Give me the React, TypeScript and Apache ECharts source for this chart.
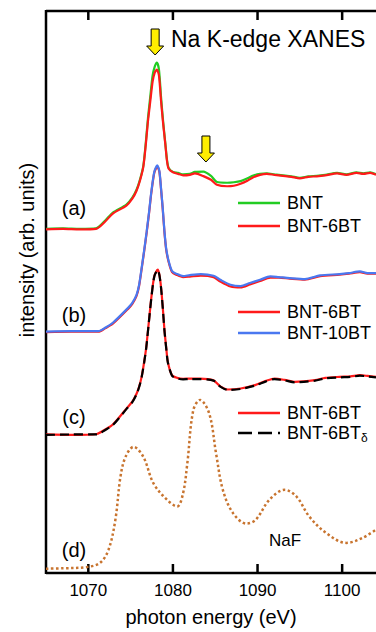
import React, { useEffect, useRef } from "react";
import * as echarts from "echarts";

const FONT = "Liberation Sans, Arial, sans-serif";

const xTicks = [1070, 1080, 1090, 1100];

// (a) BNT vs BNT-6BT
const energyA = [1065, 1067, 1069, 1070.9, 1072, 1072.9, 1074.5, 1075.2, 1075.7, 1076.1, 1076.5, 1076.8, 1077.05, 1077.35, 1077.6, 1077.85, 1078.1, 1078.35, 1078.6, 1078.85, 1079.1, 1079.3, 1079.5, 1080, 1080.6, 1081.2, 1082, 1082.6, 1083.6, 1084.5, 1085.2, 1086.4, 1087.2, 1088, 1088.8, 1089.5, 1090.3, 1091.1, 1092, 1093, 1094, 1095, 1096, 1097, 1098, 1099.4, 1100.5, 1101.7, 1102.5, 1103.3, 1104];
const bntA = [342.5, 343, 342.5, 343, 351, 359, 367, 374, 382, 392, 406, 430, 454, 478, 497, 506, 510, 503, 475, 450, 429, 412, 404, 400, 399, 397.5, 398, 400, 400.3, 396, 389.7, 389, 389.5, 390.7, 393.5, 396.3, 398, 398.5, 397.5, 396.5, 395.5, 394, 395.5, 396, 397, 399, 397.5, 399.5, 398.5, 399.5, 397.5];
const bnt6A = [342, 342.5, 342, 342.5, 350, 358, 366, 373, 381, 391, 405, 428, 451, 473, 491, 500, 503, 497, 471, 448, 428, 411, 403, 399.5, 398, 396.5, 397, 398.5, 395.7, 392, 387, 385.5, 386, 388, 391, 394.5, 397, 398, 397, 396, 395, 393.5, 395, 395.5, 396.5, 398.5, 397, 399, 398, 399, 397];

// (b) BNT-6BT vs BNT-10BT
const energyB = [1065, 1068, 1071.2, 1072, 1072.9, 1074.7, 1075.2, 1075.7, 1076, 1076.3, 1076.6, 1076.9, 1077.2, 1077.45, 1077.8, 1078.15, 1078.4, 1078.6, 1078.8, 1079, 1079.2, 1079.5, 1079.9, 1080.5, 1081.2, 1082, 1083.3, 1084.8, 1085.6, 1086.8, 1088, 1089.1, 1090.3, 1091.5, 1092.5, 1093.8, 1095.6, 1097.4, 1099.7, 1100.8, 1102.1, 1103, 1104];
const bnt6B = [238.5, 239, 239, 242.5, 247, 262, 267, 275, 285, 302, 320, 339, 360, 379, 399, 405.5, 400, 382, 362, 339, 322, 309, 299, 296, 294, 294.5, 295.5, 294, 289.5, 284.5, 283.5, 286.5, 290, 293.5, 293.5, 292.5, 291.5, 295, 296.5, 297.5, 299, 297.5, 297.5];
const bnt10B = [239, 239.5, 239.5, 243, 248, 263, 268, 276, 286, 303, 321, 340, 361, 380, 400, 406.5, 401, 383, 363, 340, 323, 310, 300, 297, 295, 296, 297, 295.3, 291.3, 286.3, 285, 288, 291.3, 294.7, 294, 293, 292, 295.7, 297, 298, 299.7, 298, 298];

// (c) BNT-6BT vs BNT-6BTδ
const energyC = [1065, 1068, 1071, 1072, 1072.9, 1074.5, 1075.2, 1075.7, 1076, 1076.3, 1076.6, 1076.85, 1077.15, 1077.45, 1077.8, 1078.2, 1078.4, 1078.6, 1078.8, 1079, 1079.2, 1079.4, 1079.9, 1080.5, 1081.2, 1082, 1083.2, 1084.8, 1085.6, 1086.5, 1088, 1089.7, 1091, 1092, 1093.2, 1094.4, 1096.8, 1098, 1099.7, 1101, 1102.1, 1103, 1104];
const bnt6C = [135.5, 135, 136, 140.5, 145.5, 161.5, 168.5, 176.5, 183.5, 193.5, 208.5, 223.5, 248.5, 273.5, 295, 301.5, 296.5, 283.5, 263.5, 240.5, 223.5, 208.5, 195, 192.5, 191.5, 191.8, 191.8, 190, 184, 180.8, 181.8, 185.2, 189.5, 191.8, 190.5, 188.5, 190.2, 192.5, 193.5, 194, 195.2, 194.5, 193.5];
const bnt6dC = [135, 135.5, 135.5, 140, 145, 161, 168, 176, 183, 193, 208, 223, 248, 273, 294.7, 301.3, 296, 283, 263, 240, 223, 208, 194.7, 192, 191, 191.3, 191.3, 189.7, 183.7, 180.3, 181.3, 184.7, 189, 191.3, 190, 188, 189.7, 192, 193, 193.5, 194.7, 194, 193];

// (d) NaF
const energyD = [1065, 1067, 1069.85, 1071.4, 1072.4, 1073.2, 1073.8, 1074.4, 1075.35, 1076.5, 1077.7, 1079.3, 1080.5, 1081.2, 1081.7, 1082.4, 1083.2, 1084.3, 1085.1, 1085.9, 1087.1, 1088.7, 1089.8, 1091.4, 1093.2, 1094.6, 1096.1, 1098.1, 1100.5, 1102.4, 1104];
const nafD = [0.3, 0.7, 2, 6.3, 19.7, 49.7, 93, 113, 123, 113, 86.3, 69.7, 63, 76.3, 106.3, 159.7, 170.3, 156.3, 116.3, 79.7, 56.3, 45.7, 49.7, 69.7, 79.7, 73, 53, 36.3, 26.3, 31.3, 39.7];

const arrowEnergies = [1077.9, 1083.9];

const GREEN = "#22cc22";
const RED = "#ff1a1a";
const BLUE = "#4a78f0";
const BLACK = "#000000";
const BROWN = "#c8742f";

const GRID_LEFT = 46;
const GRID_TOP = 11;
const GRID_BOTTOM = 59;
const W = 376;
const H = 632;

const pair = (xs: number[], ys: number[]) => xs.map((x, i) => [x, ys[i]]);

function lineSeries(name: string, xs: number[], ys: number[], color: string, extra: any = {}) {
  return {
    name,
    type: "line",
    data: pair(xs, ys),
    showSymbol: false,
    smooth: 0.25,
    lineStyle: { color, width: 2.2, ...(extra.lineStyle || {}) },
    z: extra.z || 2,
    silent: true,
  };
}

function legendItem(y: number, color: string, label: string, dashed = false) {
  return [
    {
      type: "line",
      shape: { x1: 238, y1: y, x2: 280, y2: y },
      style: { stroke: color, lineWidth: 2.5, lineDash: dashed ? [14, 6] : null },
    },
    {
      type: "text",
      x: 287,
      y,
      style: { text: label, fontSize: 18, fontFamily: FONT, fill: "#000", verticalAlign: "middle", align: "left" },
    },
  ];
}

function textAt(x: number, y: number, text: string, size: number, align = "center") {
  return {
    type: "text",
    x,
    y,
    style: { text, fontSize: size, fontFamily: FONT, fill: "#000", align, verticalAlign: "middle" },
  };
}

export default function App() {
  const ref = useRef<HTMLDivElement>(null);
  useEffect(() => {
    if (!ref.current) return;
    const chart = echarts.init(ref.current, null, { renderer: "svg" });
    const top = GRID_TOP;
    const bottom = H - GRID_BOTTOM;
    const left = GRID_LEFT;

    chart.setOption({
      animation: false,
      backgroundColor: "#fff",
      grid: { left: GRID_LEFT, right: 0, top: GRID_TOP, bottom: GRID_BOTTOM },
      xAxis: {
        type: "value",
        min: 1065,
        max: 1104,
        position: "bottom",
        axisLine: { show: false },
        axisTick: { show: false },
        splitLine: { show: false },
        axisLabel: {
          show: true,
          customValues: xTicks,
          formatter: (v: number) => String(v),
          fontSize: 17,
          color: "#000",
          margin: 13,
          fontFamily: FONT,
        },
        name: "photon energy (eV)",
        nameLocation: "middle",
        nameGap: 38,
        nameTextStyle: { fontSize: 20, color: "#000", fontFamily: FONT },
      },
      yAxis: {
        type: "value",
        min: 0,
        max: 562,
        axisLine: { show: false },
        axisTick: { show: false },
        axisLabel: { show: false },
        splitLine: { show: false },
      },
      series: [
        lineSeries("BNT", energyA, bntA, GREEN),
        lineSeries("BNT-6BT (a)", energyA, bnt6A, RED, { z: 3 }),
        lineSeries("BNT-6BT (b)", energyB, bnt6B, RED),
        lineSeries("BNT-10BT", energyB, bnt10B, BLUE, { z: 3 }),
        lineSeries("BNT-6BT (c)", energyC, bnt6C, RED),
        lineSeries("BNT-6BTδ", energyC, bnt6dC, BLACK, { z: 3, lineStyle: { type: [9, 5] } }),
        {
          name: "NaF",
          type: "line",
          data: pair(energyD, nafD),
          showSymbol: false,
          smooth: 0.35,
          lineStyle: { color: BROWN, width: 2.5, type: [2.5, 2.5] },
          silent: true,
        },
      ],
    });

    const tickPx = xTicks.map((t) => chart.convertToPixel({ xAxisIndex: 0 }, t) as number);
    const topPts: number[][] = [[left, top]];
    tickPx.forEach((px) => {
      topPts.push([px, top], [px, top + 9], [px, top]);
    });
    topPts.push([W + 4, top]);
    const botPts: number[][] = [[left, bottom]];
    tickPx.forEach((px) => {
      botPts.push([px, bottom], [px, bottom - 9], [px, bottom]);
    });
    botPts.push([W + 4, bottom]);

    const frame: any[] = [
      { type: "polyline", shape: { points: topPts }, style: { stroke: "#000", lineWidth: 2.5, fill: null } },
      { type: "polyline", shape: { points: botPts }, style: { stroke: "#000", lineWidth: 2.5, fill: null } },
      { type: "line", shape: { x1: left, y1: top - 1, x2: left, y2: bottom + 1 }, style: { stroke: "#000", lineWidth: 2.5 } },
    ];

    const arrows = arrowEnergies.map((e, i) => {
      const cx = chart.convertToPixel({ xAxisIndex: 0 }, e) as number;
      const y0 = i === 0 ? 29 : 136;
      return {
        type: "polygon",
        x: cx,
        y: y0,
        shape: { points: [[-4, 0], [4, 0], [4, 17], [8.5, 17], [0, 26], [-8.5, 17], [-4, 17]] },
        style: { fill: "#ffee00", stroke: "#000", lineWidth: 1 },
      };
    });

    chart.setOption({
      graphic: {
        elements: [
          ...arrows,
          textAt(171, 39, "Na K-edge XANES", 23, "left"),
          {
            type: "text",
            x: 27,
            y: 250,
            rotation: Math.PI / 2,
            style: { text: "intensity (arb. units)", fontSize: 20, fontFamily: FONT, fill: "#000", align: "center", verticalAlign: "middle" },
          },
          textAt(74, 208, "(a)", 20),
          textAt(74, 315, "(b)", 20),
          textAt(74, 417, "(c)", 20),
          textAt(74, 550, "(d)", 20),
          textAt(285, 540, "NaF", 17),
          ...legendItem(203, GREEN, "BNT"),
          ...legendItem(226, RED, "BNT-6BT"),
          ...legendItem(312, RED, "BNT-6BT"),
          ...legendItem(333, BLUE, "BNT-10BT"),
          ...legendItem(413, RED, "BNT-6BT"),
          ...legendItem(433, BLACK, "BNT-6BT", true),
          {
            type: "text",
            x: 361,
            y: 438,
            style: { text: "δ", fontSize: 12, fontFamily: FONT, fill: "#000", align: "left", verticalAlign: "middle" },
          },
          ...frame,
        ],
      },
    });

    return () => chart.dispose();
  }, []);
  return <div ref={ref} style={{ position: "fixed", left: 0, top: 0, width: W, height: H }} />;
}
